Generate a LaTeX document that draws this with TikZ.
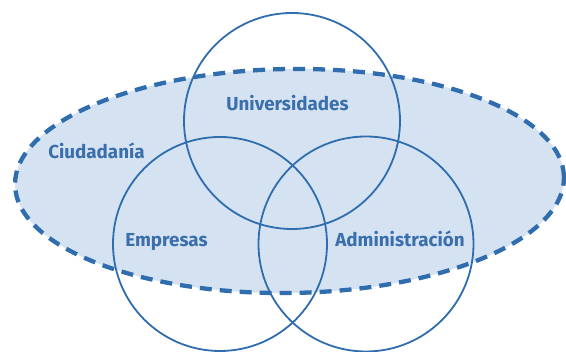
\documentclass[tikz,border=0pt]{standalone}
\usepackage{fontspec}
\setmainfont{Fira Sans}
\definecolor{stroke}{HTML}{2F6DAF}
\definecolor{fillc}{HTML}{D4E2F2}
\definecolor{txt}{HTML}{3A6EAC}
\begin{document}
\begin{tikzpicture}[x=1pt,y=1pt,
  ring/.style={draw=stroke,line width=1.8pt},
  cloud/.style={draw=stroke,fill=fillc,line width=4.3pt,dash pattern=on 12pt off 8pt},
  lbl/.style={anchor=base,text=txt,font=\fontsize{18.8}{20}\selectfont\bfseries,inner sep=0pt}]
\useasboundingbox (0,0) rectangle (566,352);
\fill[white] (0,0) rectangle (566,352);
\draw[cloud,rotate around={0.8:(289.5,171)}] (289.5,171) ellipse [x radius=274.5,y radius=112];
\draw[ring] (292,231) circle [radius=108];
\draw[ring] (220,108) circle [radius=107];
\draw[ring] (366,108) circle [radius=107.5];
\node[lbl] (uni) at (287.5,241) {Universidades};
\node[lbl] (ciu) at (96.5,193) {Ciudadanía};
\node[lbl] (emp) at (166.5,105) {Empresas};
\node[lbl] (adm) at (400,105) {Administración};
\end{tikzpicture}
\end{document}
